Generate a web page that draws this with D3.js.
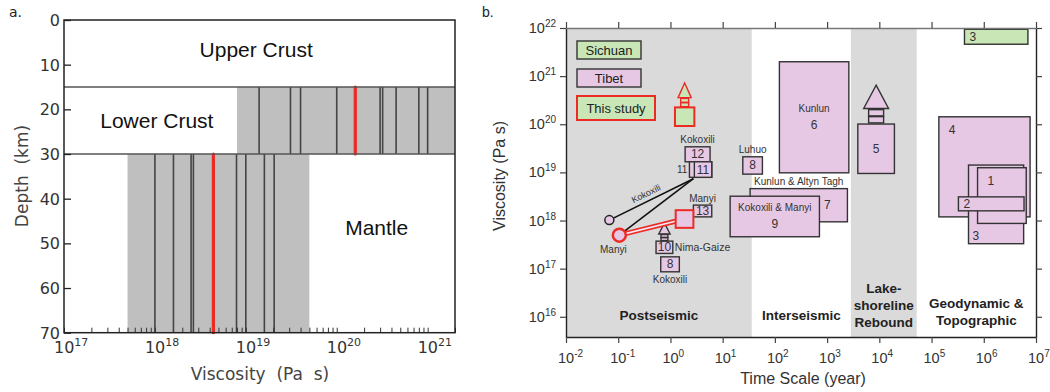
<!DOCTYPE html>
<html>
<head>
<meta charset="utf-8">
<script src="https://cdn.jsdelivr.net/npm/d3@7"></script>
<style>
  body { margin: 0; background: #fff; }
  svg { display: block; }
</style>
</head>
<body>
<svg id="fig" width="1050" height="392"></svg>
<script>
// ===== panel a data =====
const depthTicks = [0, 10, 20, 30, 40, 50, 60, 70];
const viscDecadesA = [1e17, 1e18, 1e19, 1e20, 1e21];
const layerDepths = [15, 30];
const crustRange = [8e18, 2e21];
const crustModels = [1.4e19, 3.1e19, 4.0e19, 1.0e20, 3.0e20, 3.2e20, 4.5e20, 8.0e20, 1.0e21];
const crustBest = 1.6e20;
const mantleRange = [5e17, 5e19];
const mantleModels = [1.0e18, 1.6e18, 2.5e18, 2.65e18, 7.9e18, 1.0e19, 1.6e19, 2.05e19];
const mantleBest = 4.4e18;
const layerNames = ["Upper Crust", "Lower Crust", "Mantle"];
const layerLabelVisc = [1.3e19, 1.05e18, 2.75e20];
const layerLabelDepth = [6.7, 22.6, 46.5];

// ===== panel b data =====
const timeDecades = [1e-2, 1e-1, 1e0, 1e1, 1e2, 1e3, 1e4, 1e5, 1e6, 1e7];
const viscDecadesB = [1e16, 1e17, 1e18, 1e19, 1e20, 1e21, 1e22];
const regimeNames = [["Postseismic"], ["Interseismic"], ["Lake-", "shoreline", "Rebound"], ["Geodynamic &", "Topographic"]];
const regimeSpans = [[1e-2, 36], [36, 2850], [2850, 5.2e4], [5.2e4, 1e7]];
const regimeShaded = [true, false, true, false];
const regimeLabelVisc = [1.08e16, 1.08e16, 1.74e16, 1.31e16];

// box markers: time range, viscosity range
const boxes = [
  { grp: "tibet",   n: "4",  t: [1.38e5, 7.7e6], v: [1.19e18, 1.43e20], pos: "tl" },
  { grp: "tibet",   n: "3",  t: [5.1e5, 5.8e6],  v: [3.3e17, 1.42e19],  pos: "bl" },
  { grp: "tibet",   n: "1",  t: [7.6e5, 6.5e6],  v: [8.7e17, 1.25e19],  pos: "tl" },
  { grp: "tibet",   n: "2",  t: [3.27e5, 5.9e6], v: [1.59e18, 3.1e18],  pos: "l" },
  { grp: "sichuan", n: "3",  t: [4.27e5, 7.0e6], v: [4.6e21, 9.4e21],   pos: "l" },
  { grp: "tibet",   n: "7",  t: [33.5, 2449],    v: [9.4e17, 4.6e18],   pos: "r", site: "Kunlun & Altyn Tagh", sitePos: "above" },
  { grp: "tibet",   n: "9",  t: [13.9, 713],     v: [4.6e17, 3.2e18],   pos: "c", site: "Kokoxili & Manyi", sitePos: "inside" },
  { grp: "tibet",   n: "6",  t: [122, 2606],     v: [9.8e18, 1.99e21],  pos: "c", site: "Kunlun", sitePos: "inside" },
  { grp: "tibet",   n: "5",  t: [3873, 19450],   v: [9.5e18, 1.01e20],  pos: "c", arrowTo: 6.5e20 },
  { grp: "tibet",   n: "8",  t: [24.3, 57.7],    v: [9.2e18, 2.11e19],  pos: "c", site: "Luhuo", sitePos: "above" },
  { grp: "tibet",   n: "12", t: [1.91, 5.74],    v: [1.66e19, 3.4e19],  pos: "c", site: "Kokoxili", sitePos: "above" },
  { grp: "tibet",   n: "",   t: [2.31, 6.18],    v: [7.9e18, 1.66e19],  pos: "c", site: "11", sitePos: "left" },
  { grp: "tibet",   n: "11", t: [2.87, 6.18],    v: [7.9e18, 1.66e19],  pos: "c" },
  { grp: "tibet",   n: "13", t: [2.75, 6.18],    v: [1.19e18, 2.09e18], pos: "c", site: "Manyi", sitePos: "above" },
  { grp: "tibet",   n: "10", t: [0.53, 1.11],    v: [2.07e17, 3.73e17], pos: "c", site: "Nima-Gaize", sitePos: "right", arrowTo: 8.8e17 },
  { grp: "tibet",   n: "8",  t: [0.652, 1.48],   v: [8.6e16, 1.76e17],  pos: "c", site: "Kokoxili", sitePos: "below" },
  { grp: "study",   n: "",   t: [1.22, 2.87],    v: [9.2e19, 2.24e20],  pos: "c", arrowTo: 7.2e20 }
];
// this study, Manyi model (red square)
const manyiBox = { t: [1.26, 2.75], v: [7.05e17, 1.64e18] };
// circles: [time, viscosity]
const kokoxiliPt = [0.0676, 1.02e18];
const manyiPt = [0.105, 4.97e17];
const tieEnd = [2.75, 7.4e18];
const legendNames = ["Sichuan", "Tibet", "This study"];

// ===== styles =====
const pink = "#e7c8e4", green = "#c9e6b6", red = "#ec2b24", shade = "#dadada";
const fontA = "'DejaVu Sans', sans-serif";
const fontB = "'Liberation Sans', Arial, sans-serif";

const svg = d3.select("#fig");

// ================= PANEL A =================
const xa = d3.scaleLog().domain([1e17, 2e21]).range([64, 455]);
const ya = d3.scaleLinear().domain([0, 70]).range([20, 332.7]);
const ga = svg.append("g");

// shaded viscosity ranges
ga.append("rect")
  .attr("x", xa(crustRange[0])).attr("width", xa(crustRange[1]) - xa(crustRange[0]))
  .attr("y", ya(layerDepths[0])).attr("height", ya(layerDepths[1]) - ya(layerDepths[0]))
  .attr("fill", "#bfbfbf");
ga.append("rect")
  .attr("x", xa(mantleRange[0])).attr("width", xa(mantleRange[1]) - xa(mantleRange[0]))
  .attr("y", ya(layerDepths[1])).attr("height", ya(70) - ya(layerDepths[1]))
  .attr("fill", "#bfbfbf");

// model lines
ga.selectAll(".cl").data(crustModels).join("line")
  .attr("x1", d => xa(d)).attr("x2", d => xa(d))
  .attr("y1", ya(layerDepths[0])).attr("y2", ya(layerDepths[1]))
  .attr("stroke", "#444").attr("stroke-width", 1.6);
ga.selectAll(".ml").data(mantleModels).join("line")
  .attr("x1", d => xa(d)).attr("x2", d => xa(d))
  .attr("y1", ya(layerDepths[1])).attr("y2", ya(70))
  .attr("stroke", "#444").attr("stroke-width", 1.6);
ga.append("line")
  .attr("x1", xa(crustBest)).attr("x2", xa(crustBest))
  .attr("y1", ya(layerDepths[0])).attr("y2", ya(layerDepths[1]))
  .attr("stroke", red).attr("stroke-width", 3.2).attr("stroke-linecap", "round");
ga.append("line")
  .attr("x1", xa(mantleBest)).attr("x2", xa(mantleBest))
  .attr("y1", ya(layerDepths[1])).attr("y2", ya(70))
  .attr("stroke", red).attr("stroke-width", 3.2).attr("stroke-linecap", "round");

// layer boundaries
ga.selectAll(".lb").data(layerDepths).join("line")
  .attr("x1", xa.range()[0]).attr("x2", xa.range()[1])
  .attr("y1", d => ya(d)).attr("y2", d => ya(d))
  .attr("stroke", "#555").attr("stroke-width", 1.4);

// minor ticks on bottom (inward)
const minorA = [];
for (let e = 17; e <= 21; e++) for (let m = 1; m < 10; m++) {
  const v = m * Math.pow(10, e);
  if (v <= 2e21) minorA.push(v);
}
ga.append("g")
  .attr("transform", `translate(0,${ya(70)})`)
  .call(d3.axisBottom(xa).tickValues(minorA).tickSize(-5).tickFormat(""))
  .call(g => g.select(".domain").remove())
  .call(g => g.selectAll("line").attr("stroke", "#333"));

// left axis ticks (inward)
ga.append("g")
  .attr("transform", `translate(${xa.range()[0]},0)`)
  .call(d3.axisLeft(ya).tickValues(depthTicks).tickSize(-7).tickFormat(""))
  .call(g => g.select(".domain").remove())
  .call(g => g.selectAll("line").attr("stroke", "#222").attr("stroke-width", 1.3));

// frame
ga.append("rect")
  .attr("x", 64).attr("y", 20).attr("width", 455 - 64).attr("height", ya(70) - 20)
  .attr("fill", "none").attr("stroke", "#222").attr("stroke-width", 1.5);

// tick labels
ga.selectAll(".yl").data(depthTicks).join("text")
  .attr("x", 60).attr("y", d => ya(d) + 6)
  .attr("text-anchor", "end")
  .attr("font-family", fontA).attr("font-size", 16).attr("fill", "#333")
  .text(d => d);
const xlA = ga.selectAll(".xl").data(viscDecadesA).join("text")
  .attr("x", d => xa(d) - 10).attr("y", 353)
  .attr("font-family", fontA).attr("font-size", 16).attr("fill", "#333");
xlA.append("tspan").text("10");
xlA.append("tspan").attr("font-size", 11).attr("dy", -7).text(d => Math.round(Math.log10(d)));

ga.append("text")
  .attr("x", 260).attr("y", 380).attr("text-anchor", "middle")
  .attr("font-family", fontA).attr("font-size", 17).attr("fill", "#444")
  .attr("xml:space", "preserve")
  .text("Viscosity  (Pa  s)");
ga.append("text")
  .attr("transform", `translate(28,176) rotate(-90)`)
  .attr("text-anchor", "middle")
  .attr("font-family", fontA).attr("font-size", 17).attr("fill", "#444")
  .attr("xml:space", "preserve")
  .text("Depth  (km)");

// layer names
ga.selectAll(".ln").data(layerNames).join("text")
  .attr("x", (d, i) => xa(layerLabelVisc[i]))
  .attr("y", (d, i) => ya(layerLabelDepth[i]) + 7)
  .attr("text-anchor", "middle")
  .attr("font-family", fontB).attr("font-size", 21).attr("fill", "#111")
  .text(d => d);

svg.append("text").attr("x", 9).attr("y", 17)
  .attr("font-family", fontA).attr("font-size", 14).attr("fill", "#222").text("a.");

// ================= PANEL B =================
const xb = d3.scaleLog().domain([1e-2, 1e7]).range([566, 1036]);
const yb = d3.scaleLog().domain([Math.pow(10, 15.58), 1e22]).range([337, 28]);
const gb = svg.append("g");

// regime shading
regimeSpans.forEach((s, i) => {
  if (!regimeShaded[i]) return;
  gb.append("rect")
    .attr("x", xb(s[0])).attr("width", xb(s[1]) - xb(s[0]))
    .attr("y", yb.range()[1]).attr("height", yb.range()[0] - yb.range()[1])
    .attr("fill", shade);
});

// regime labels
regimeNames.forEach((lines, i) => {
  const cx = Math.sqrt(regimeSpans[i][0] * regimeSpans[i][1]);
  const cy = yb(regimeLabelVisc[i]);
  const lh = 17;
  lines.forEach((ln, k) => {
    gb.append("text")
      .attr("x", xb(cx)).attr("y", cy + (k - (lines.length - 1) / 2) * lh + 5)
      .attr("text-anchor", "middle")
      .attr("font-family", fontB).attr("font-size", 13.5).attr("font-weight", "bold")
      .attr("fill", "#222")
      .text(ln);
  });
});

function boxFill(grp) { return grp === "tibet" ? pink : green; }
function boxStroke(grp) { return grp === "study" ? red : "#333"; }

function drawArrow(b, x0, x1, yTop) {
  const yA = yb(b.arrowTo);
  const H = yTop - yA;
  const cx = (x0 + x1) / 2, w = x1 - x0;
  const tw = 0.68 * w, bw = 0.41 * w;
  const col = boxStroke(b.grp), fill = boxFill(b.grp);
  gb.append("path")
    .attr("d", `M${cx},${yA}L${cx + tw / 2},${yA + 0.6 * H}L${cx - tw / 2},${yA + 0.6 * H}Z`)
    .attr("fill", fill).attr("stroke", col).attr("stroke-width", 1.4);
  [[0.63, 0.79], [0.81, 0.97]].forEach(r => {
    gb.append("rect")
      .attr("x", cx - bw / 2).attr("width", bw)
      .attr("y", yA + r[0] * H).attr("height", (r[1] - r[0]) * H)
      .attr("fill", fill).attr("stroke", col).attr("stroke-width", 1.4);
  });
}

boxes.forEach(b => {
  const x0 = xb(b.t[0]), x1 = xb(b.t[1]);
  const y0 = yb(b.v[1]), y1 = yb(b.v[0]);
  gb.append("rect")
    .attr("x", x0).attr("y", y0).attr("width", x1 - x0).attr("height", y1 - y0)
    .attr("fill", boxFill(b.grp)).attr("stroke", boxStroke(b.grp))
    .attr("stroke-width", b.grp === "study" ? 2 : 1.4);
  if (b.arrowTo) drawArrow(b, x0, x1, y0);
  const cx = (x0 + x1) / 2, cy = (y0 + y1) / 2;
  let nx = cx, ny = cy + 4, anchor = "middle";
  if (b.pos === "tl") { nx = x0 + 10; ny = y0 + 17; anchor = "start"; }
  if (b.pos === "bl") { nx = x0 + 4; ny = y1 - 4; anchor = "start"; }
  if (b.pos === "l")  { nx = x0 + 5; ny = cy + 4; anchor = "start"; }
  if (b.pos === "r")  { nx = x1 - 20; ny = cy + 4; }
  if (b.sitePos === "inside") ny = cy + 12;
  if (b.n) {
    gb.append("text").attr("x", nx).attr("y", ny).attr("text-anchor", anchor)
      .attr("font-family", fontB).attr("font-size", 12).attr("fill", "#333").text(b.n);
  }
  if (b.site) {
    let sx = cx, sy = y0 - 3.5, sa = "middle";
    if (b.sitePos === "below") sy = y1 + 11;
    if (b.sitePos === "right") { sx = x1 + 2; sy = cy + 3.5; sa = "start"; }
    if (b.sitePos === "left") { sx = x0 - 2; sy = cy + 3.5; sa = "end"; }
    if (b.sitePos === "inside") sy = cy - 5;
    gb.append("text").attr("x", sx).attr("y", sy).attr("text-anchor", sa)
      .attr("font-family", fontB).attr("font-size", b.sitePos === "right" ? 10.5 : 10)
      .attr("fill", "#333").text(b.site);
  }
});

// Kokoxili / Manyi model tie lines
[kokoxiliPt, manyiPt].forEach(p => {
  gb.append("line")
    .attr("x1", xb(p[0])).attr("y1", yb(p[1]))
    .attr("x2", xb(tieEnd[0])).attr("y2", yb(tieEnd[1]))
    .attr("stroke", "#111").attr("stroke-width", 1.6);
});
{
  const x1 = xb(kokoxiliPt[0]), y1 = yb(kokoxiliPt[1]);
  const x2 = xb(tieEnd[0]), y2 = yb(tieEnd[1]);
  const ang = Math.atan2(y2 - y1, x2 - x1) * 180 / Math.PI;
  const mx = (x1 + x2) / 2 - 4, my = (y1 + y2) / 2 - 3;
  gb.append("text")
    .attr("transform", `translate(${mx},${my}) rotate(${ang})`)
    .attr("text-anchor", "middle")
    .attr("font-family", fontB).attr("font-size", 9).attr("fill", "#333")
    .text("Kokoxili");
}
// red double line to Manyi square
{
  const sx = Math.sqrt(manyiBox.t[0] * manyiBox.t[1]);
  const sv = Math.sqrt(manyiBox.v[0] * manyiBox.v[1]);
  const ln = gb.append("g");
  ln.append("line")
    .attr("x1", xb(manyiPt[0])).attr("y1", yb(manyiPt[1]))
    .attr("x2", xb(sx)).attr("y2", yb(sv))
    .attr("stroke", red).attr("stroke-width", 5);
  ln.append("line")
    .attr("x1", xb(manyiPt[0])).attr("y1", yb(manyiPt[1]))
    .attr("x2", xb(sx)).attr("y2", yb(sv))
    .attr("stroke", "#f6e8f3").attr("stroke-width", 1.6);
}
gb.append("circle")
  .attr("cx", xb(kokoxiliPt[0])).attr("cy", yb(kokoxiliPt[1])).attr("r", 4.5)
  .attr("fill", pink).attr("stroke", "#222").attr("stroke-width", 1.5);
gb.append("circle")
  .attr("cx", xb(manyiPt[0])).attr("cy", yb(manyiPt[1])).attr("r", 6.5)
  .attr("fill", pink).attr("stroke", red).attr("stroke-width", 2.5);
gb.append("text")
  .attr("x", xb(manyiPt[0]) - 6).attr("y", yb(manyiPt[1]) + 18)
  .attr("text-anchor", "middle")
  .attr("font-family", fontB).attr("font-size", 10).attr("fill", "#333")
  .text("Manyi");
gb.append("rect")
  .attr("x", xb(manyiBox.t[0])).attr("y", yb(manyiBox.v[1]))
  .attr("width", xb(manyiBox.t[1]) - xb(manyiBox.t[0]))
  .attr("height", yb(manyiBox.v[0]) - yb(manyiBox.v[1]))
  .attr("fill", pink).attr("stroke", red).attr("stroke-width", 2);

// legend
const legFill = [green, pink, green], legStroke = ["#333", "#333", red];
const legW = [64, 64, 78], legY = [41, 69, 96], legH = [18, 18, 24];
legendNames.forEach((n, i) => {
  gb.append("rect")
    .attr("x", 577).attr("y", legY[i]).attr("width", legW[i]).attr("height", legH[i])
    .attr("fill", legFill[i]).attr("stroke", legStroke[i]).attr("stroke-width", i === 2 ? 2 : 1.4);
  gb.append("text")
    .attr("x", 577 + legW[i] / 2).attr("y", legY[i] + legH[i] / 2 + 4.5)
    .attr("text-anchor", "middle")
    .attr("font-family", fontB).attr("font-size", 13).attr("fill", "#222")
    .text(n);
});

// axes (outward ticks)
const axisStyle = g => {
  g.select(".domain").attr("stroke", "#222").attr("stroke-width", 1.4);
  g.selectAll(".tick line").attr("stroke", "#444").attr("stroke-width", 1.2);
};
gb.append("g").attr("transform", `translate(566,0)`)
  .call(d3.axisLeft(yb).tickValues(viscDecadesB).tickSize(6).tickSizeOuter(0).tickFormat(""))
  .call(axisStyle);
gb.append("g").attr("transform", `translate(1036,0)`)
  .call(d3.axisRight(yb).tickValues(viscDecadesB).tickSize(6).tickSizeOuter(0).tickFormat(""))
  .call(axisStyle);
gb.append("g").attr("transform", `translate(0,28)`)
  .call(d3.axisTop(xb).tickValues(timeDecades).tickSize(6).tickSizeOuter(0).tickFormat(""))
  .call(axisStyle)
  .call(g => g.select(".domain").attr("stroke", "#777"));
gb.append("g").attr("transform", `translate(0,337)`)
  .call(d3.axisBottom(xb).tickValues(timeDecades).tickSize(6).tickSizeOuter(0).tickFormat(""))
  .call(axisStyle);

// tick labels panel b
const ylB = gb.selectAll(".ylb").data(viscDecadesB).join("text")
  .attr("x", 556).attr("y", d => yb(d) + 5).attr("text-anchor", "end")
  .attr("font-family", fontB).attr("font-size", 14.5).attr("fill", "#333");
ylB.append("tspan").text("10");
ylB.append("tspan").attr("font-size", 10).attr("dy", -6).text(d => Math.round(Math.log10(d)));

const xlB = gb.selectAll(".xlb").data(timeDecades).join("text")
  .attr("x", d => xb(d) - 8).attr("y", 363)
  .attr("font-family", fontB).attr("font-size", 14.5).attr("fill", "#333");
xlB.append("tspan").text("10");
xlB.append("tspan").attr("font-size", 10).attr("dy", -6).text(d => Math.round(Math.log10(d)));

gb.append("text")
  .attr("x", 803).attr("y", 384).attr("text-anchor", "middle")
  .attr("font-family", fontB).attr("font-size", 16).attr("fill", "#333")
  .text("Time Scale (year)");
gb.append("text")
  .attr("transform", `translate(505,176) rotate(-90)`)
  .attr("text-anchor", "middle")
  .attr("font-family", fontB).attr("font-size", 16).attr("fill", "#333")
  .text("Viscosity (Pa s)");

svg.append("text").attr("x", 482).attr("y", 17)
  .attr("font-family", fontB).attr("font-size", 14).attr("fill", "#222").text("b.");
</script>
</body>
</html>
